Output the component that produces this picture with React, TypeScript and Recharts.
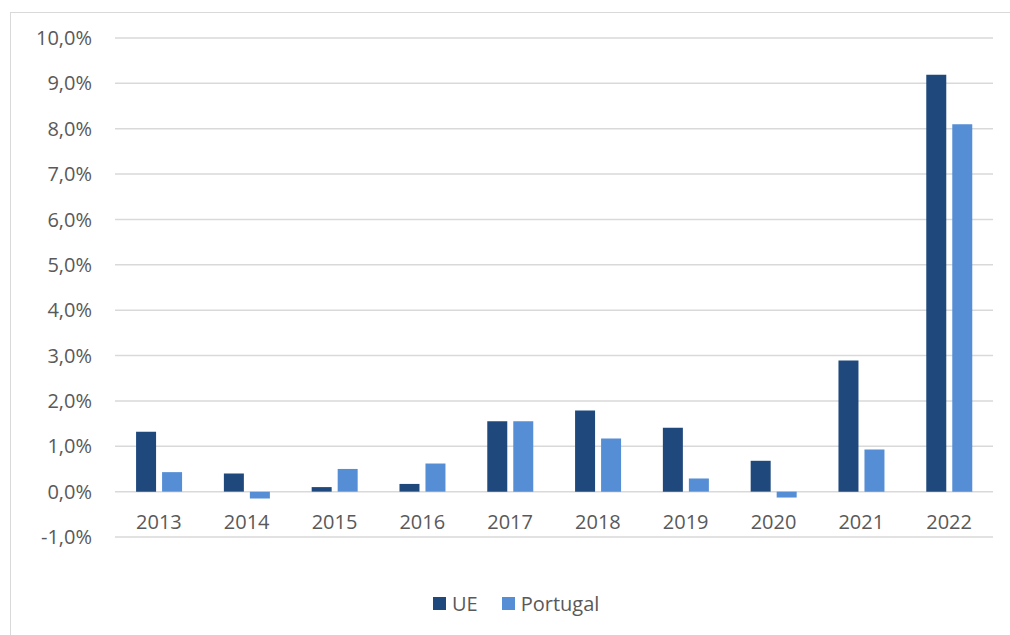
import React from 'react';
import { BarChart, Bar, XAxis, YAxis, CartesianGrid, Legend } from 'recharts';

const years = ['2013', '2014', '2015', '2016', '2017', '2018', '2019', '2020', '2021', '2022'];
const ueValues = [1.32, 0.4, 0.1, 0.17, 1.55, 1.79, 1.41, 0.68, 2.89, 9.19];
const portugalValues = [0.43, -0.15, 0.5, 0.62, 1.55, 1.17, 0.29, -0.13, 0.93, 8.1];
const yTicks = [-1, 0, 1, 2, 3, 4, 5, 6, 7, 8, 9, 10];

const seriesNames = { ue: 'UE', pt: 'Portugal' };
const colors = { ue: '#1F497D', pt: '#558ED5' };

const data = years.map((y, i) => ({ year: y, ue: ueValues[i], pt: portugalValues[i] }));

const FONT = '"Open Sans", "Noto Sans", sans-serif';
const TEXT = '#595959';
const FS = 20;

const fmt = (v: number) => v.toFixed(1).replace('.', ',') + '%';

const XTick = (props: any) => {
  const { x, y, payload } = props;
  return (
    <text x={x} y={y - 15} dy="0.35em" textAnchor="middle" fill={TEXT} fontSize={FS} fontFamily={FONT}>
      {payload.value}
    </text>
  );
};

const LegendContent = () => (
  <div style={{ height: 30, width: 1010, display: 'flex', alignItems: 'center', fontFamily: FONT, fontSize: FS, color: TEXT }}>
    <div style={{ marginLeft: 433, width: 13, height: 13, background: colors.ue }} />
    <span style={{ marginLeft: 6 }}>{seriesNames.ue}</span>
    <div style={{ marginLeft: 24, width: 13, height: 13, background: colors.pt }} />
    <span style={{ marginLeft: 6 }}>{seriesNames.pt}</span>
  </div>
);

export default function App() {
  return (
    <div style={{ position: 'absolute', left: 0, top: 0, width: 1010, height: 635, background: '#fff', overflow: 'hidden' }}>
      <div style={{ position: 'absolute', left: 10, top: 12, width: 1000, height: 623, borderTop: '1px solid #d9d9d9', borderLeft: '1px solid #d9d9d9' }} />
      <BarChart
        width={1010}
        height={635}
        data={data}
        margin={{ top: 38, left: 35, right: 17, bottom: 17 }}
        barCategoryGap="24%"
        barGap={6}
      >
        <CartesianGrid vertical={false} stroke="#d9d9d9" strokeWidth={1.5} />
        <XAxis dataKey="year" axisLine={false} tickLine={false} tickSize={0} tickMargin={0} height={51} tick={<XTick />} interval={0} />
        <YAxis
          width={80}
          domain={[-1, 10]}
          ticks={yTicks}
          tickFormatter={fmt}
          axisLine={false}
          tickLine={false}
          tickSize={0}
          tickMargin={23}
          interval={0}
          tick={{ fill: TEXT, fontSize: FS, fontFamily: FONT }}
        />
        <Legend verticalAlign="bottom" content={<LegendContent />} wrapperStyle={{ left: 0, width: 1010 }} />
        <Bar dataKey="ue" name={seriesNames.ue} fill={colors.ue} isAnimationActive={false} />
        <Bar dataKey="pt" name={seriesNames.pt} fill={colors.pt} isAnimationActive={false} />
      </BarChart>
    </div>
  );
}
